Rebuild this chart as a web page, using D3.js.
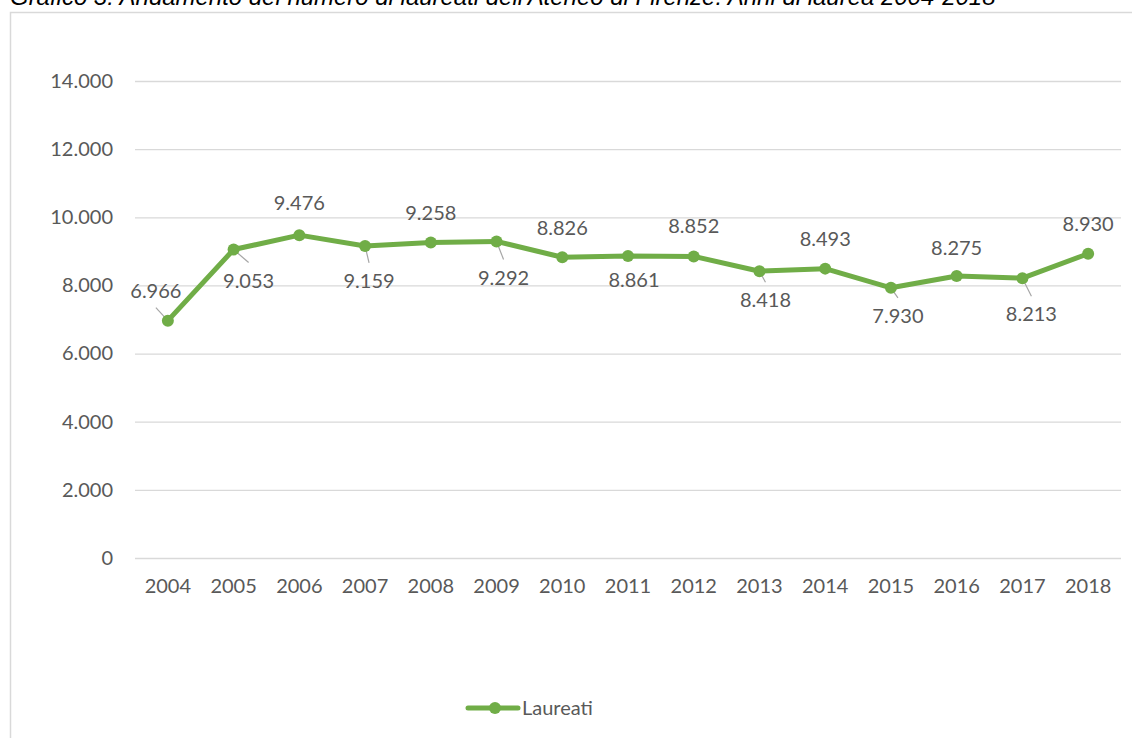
<!DOCTYPE html>
<html><head><meta charset="utf-8">
<script src="https://cdn.jsdelivr.net/npm/d3@7"></script>
<style>
html,body{margin:0;padding:0;background:#fff;overflow:hidden;}
</style></head>
<body>
<svg id="chart" width="1132" height="738"></svg>
<script>
const titleText = "Grafico 3. Andamento del numero di laureati dell'Ateneo di Firenze. Anni di laurea 2004-2018";
const years = ["2004","2005","2006","2007","2008","2009","2010","2011","2012","2013","2014","2015","2016","2017","2018"];
const laureati = [6966, 9053, 9476, 9159, 9258, 9292, 8826, 8861, 8852, 8418, 8493, 7930, 8275, 8213, 8930];
const yTicks = [0, 2000, 4000, 6000, 8000, 10000, 12000, 14000];
const seriesName = "Laureati";
// label placement relative to point (px)
const labelDx = [-12, 15, 0, 4, 0, 7, 0, 6, 0, 6, 0, 7, 0, 9, 0];
const labelDy = [-30, 31, -32, 35, -30, 36, -29, 24, -31, 29, -30, 28, -28, 36, -30];
const labelLeader = [true, true, false, true, false, true, false, false, false, true, false, true, false, true, false];

const svg = d3.select("#chart");
const font = "Lato, 'Open Sans', sans-serif";
const fs = 20;
const textColor = "#595959";
const green = "#70ad47";

// frame
svg.append("rect").attr("x", 10.5).attr("y", 12.5).attr("width", 1200).attr("height", 800)
  .attr("fill", "#fff").attr("stroke", "#d9d9d9").attr("stroke-width", 1.5);

// title (cut off at the top, as in the source image)
const title = svg.append("text").attr("x", 10).attr("y", 5)
  .attr("font-family", "'Liberation Sans', Arial, sans-serif").attr("font-style", "italic")
  .attr("font-size", 20).attr("fill", "#000").text(titleText);
const tw = title.node().getComputedTextLength();
title.attr("font-size", 20 * 986 / tw);

const mLeft = 135, mRight = 1121, mTop = 81, mBottom = 558;
const x = d3.scaleBand().domain(years).range([mLeft, mRight]);
const y = d3.scaleLinear().domain([0, 14000]).range([mBottom, mTop]);
const fmt = v => d3.format(",")(v).replace(/,/g, ".");

// gridlines
svg.append("g").selectAll("line").data(yTicks).join("line")
  .attr("x1", mLeft).attr("x2", mRight)
  .attr("y1", d => y(d) + 0.5).attr("y2", d => y(d) + 0.5)
  .attr("stroke", "#d9d9d9").attr("stroke-width", 1.3);

// y axis labels
const yAxis = d3.axisLeft(y).tickValues(yTicks).tickFormat(fmt).tickSize(0).tickPadding(0);
const gy = svg.append("g").attr("transform", `translate(113,0)`).call(yAxis);
gy.select(".domain").remove();
gy.selectAll("text").attr("font-family", font).attr("font-size", fs).attr("fill", textColor);

// x axis labels
const xAxis = d3.axisBottom(x).tickSize(0).tickPadding(21);
const gx = svg.append("g").attr("transform", `translate(0,${mBottom})`).call(xAxis);
gx.select(".domain").remove();
gx.selectAll("text").attr("font-family", font).attr("font-size", fs).attr("fill", textColor);

const cx = i => x(years[i]) + x.bandwidth() / 2;
const cy = i => y(laureati[i]);
const idx = laureati.map((d, i) => i);

// leader lines
svg.append("g").selectAll("line").data(idx.filter(i => labelLeader[i])).join("line")
  .attr("x1", i => cx(i)).attr("y1", i => cy(i))
  .attr("x2", i => cx(i) + labelDx[i])
  .attr("y2", i => cy(i) + labelDy[i] + (labelDy[i] > 0 ? -18 : 17))
  .attr("stroke", "#a6a6a6").attr("stroke-width", 1.2);

// line
const line = d3.line().x((d, i) => cx(i)).y((d, i) => cy(i));
svg.append("path").datum(laureati).attr("d", line)
  .attr("fill", "none").attr("stroke", green).attr("stroke-width", 5)
  .attr("stroke-linejoin", "round").attr("stroke-linecap", "round");

// markers
svg.append("g").selectAll("circle").data(idx).join("circle")
  .attr("cx", i => cx(i)).attr("cy", i => cy(i)).attr("r", 6)
  .attr("fill", green);

// data labels
svg.append("g").selectAll("text").data(idx).join("text")
  .attr("x", i => cx(i) + labelDx[i])
  .attr("y", i => cy(i) + labelDy[i])
  .attr("dy", "0.36em")
  .attr("text-anchor", "middle")
  .attr("font-family", font).attr("font-size", fs).attr("fill", textColor)
  .text(i => fmt(laureati[i]));

// legend
const lg = svg.append("g").attr("transform", "translate(468,708)");
lg.append("line").attr("x1", 0).attr("x2", 50).attr("y1", 0).attr("y2", 0)
  .attr("stroke", green).attr("stroke-width", 5).attr("stroke-linecap", "round");
lg.append("circle").attr("cx", 27).attr("cy", 0).attr("r", 6).attr("fill", green);
lg.append("text").attr("x", 54).attr("y", 0).attr("dy", "0.36em")
  .attr("font-family", font).attr("font-size", fs).attr("fill", textColor).text(seriesName);
</script>
</body></html>
